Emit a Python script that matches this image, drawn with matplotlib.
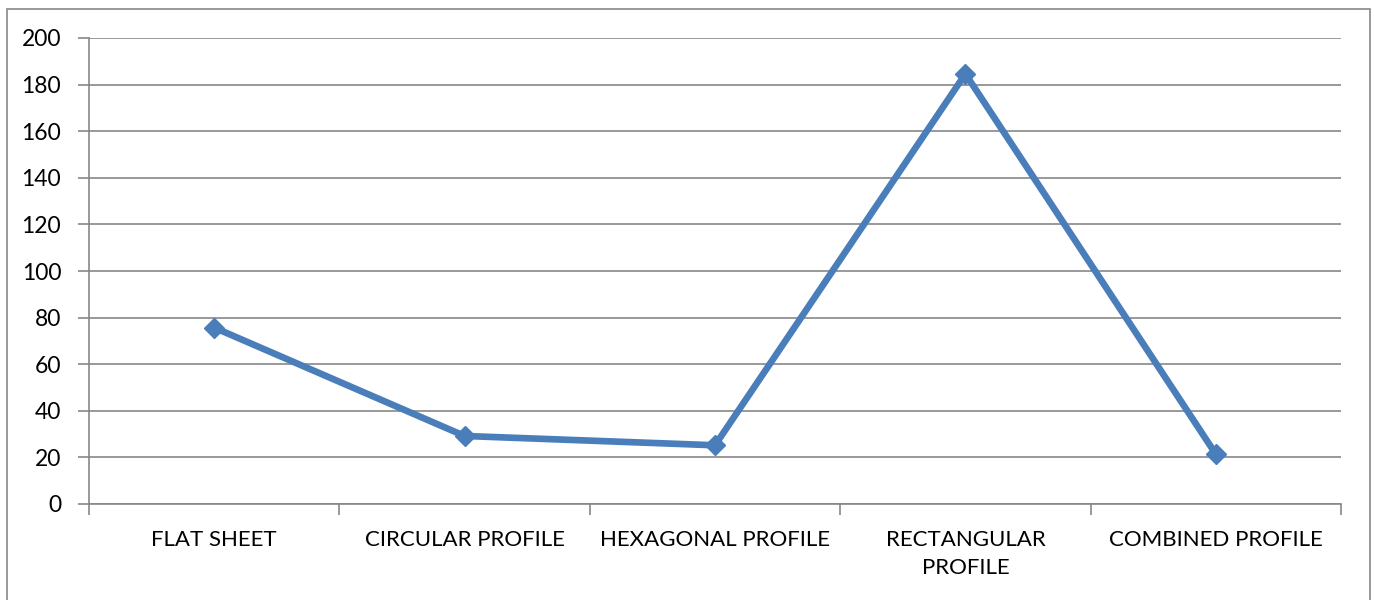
import matplotlib

matplotlib.use("Agg")

import matplotlib.pyplot as plt
from matplotlib.patches import Rectangle

categories = ["FLAT SHEET", "CIRCULAR PROFILE", "HEXAGONAL PROFILE",
              "RECTANGULAR\nPROFILE", "COMBINED PROFILE"]
values = [75.7, 29.2, 25.2, 184.6, 21.4]
y_ticks = [0, 20, 40, 60, 80, 100, 120, 140, 160, 180, 200]

LINE_COLOR = "#4a7ebb"
GRID_COLOR = "#878787"
TEXT_COLOR = "#000000"

plt.rcParams["font.family"] = ["Lato", "DejaVu Sans"]

fig = plt.figure(figsize=(13.74, 6.0), dpi=100, facecolor="white")
ax = fig.add_axes([89 / 1374, 96 / 600, (1341 - 89) / 1374, (504 - 38) / 600])

# outer chart frame
fig.patches.append(Rectangle((7 / 1374, -0.05), (1370 - 7) / 1374, (591 / 600) + 0.05,
                             transform=fig.transFigure, fill=False,
                             edgecolor=GRID_COLOR, linewidth=1.2))

xs = list(range(len(categories)))
ax.plot(xs, values, color=LINE_COLOR, linewidth=4.8, marker="D",
        markersize=10, markerfacecolor=LINE_COLOR, markeredgecolor=LINE_COLOR,
        zorder=3, solid_joinstyle="miter")

ax.set_xlim(-0.5, len(categories) - 0.5)
ax.set_ylim(0, 200)
ax.set_yticks(y_ticks)
ax.yaxis.grid(True, color=GRID_COLOR, linewidth=1.2)
ax.set_axisbelow(True)

ax.set_xticks(xs)
ax.set_xticklabels(categories, fontsize=16, color=TEXT_COLOR, linespacing=1.45)
ax.set_xticks([x - 0.5 for x in range(len(categories) + 1)], minor=True)
ax.tick_params(axis="x", which="major", length=0, pad=19)
ax.tick_params(axis="x", which="minor", length=8, width=1.2, color=GRID_COLOR)
ax.tick_params(axis="y", length=8, width=1.2, color=GRID_COLOR, pad=12,
               labelsize=16.5, labelcolor=TEXT_COLOR)

for name, spine in ax.spines.items():
    if name in ("top", "right"):
        spine.set_visible(False)
    else:
        spine.set_color(GRID_COLOR)
        spine.set_linewidth(1.2)

fig.savefig("out.png", dpi=100, facecolor="white")
plt.close(fig)
